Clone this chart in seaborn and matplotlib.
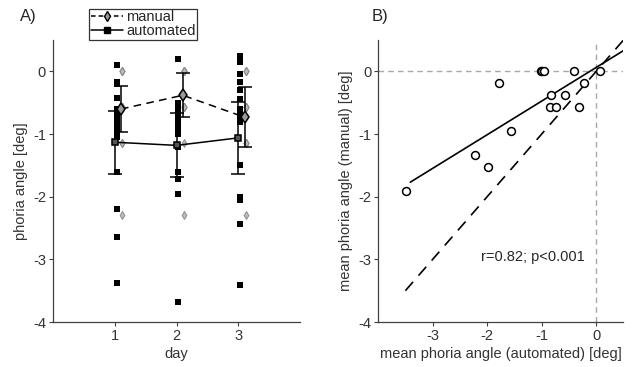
import numpy as np
import pandas as pd
import matplotlib
matplotlib.use("Agg")
import matplotlib.pyplot as plt
from matplotlib.lines import Line2D
import seaborn as sns

# Panel A: single-subject phoria per day [deg]
days = [1, 2, 3]
auto_day1 = [0.1, -0.17, -0.2, -0.42, -0.6, -0.65, -0.75, -0.82, -0.88, -0.95, -1.0, -1.05, -1.6, -2.19, -2.64, -3.38]
auto_day2 = [0.2, -0.5, -0.55, -0.6, -0.65, -0.7, -0.75, -0.8, -0.85, -0.9, -1.0, -1.2, -1.6, -1.72, -1.95, -3.68]
auto_day3 = [0.25, 0.15, -0.04, -0.17, -0.3, -0.44, -0.6, -0.65, -0.68, -0.75, -0.8, -1.5, -2.0, -2.06, -2.43, -3.41]
manual_day1 = [0, 0, 0, 0, 0, -0.57, -0.57, -0.57, -0.57, -0.57, -0.57, -0.57, -1.15, -1.15, -1.15, -2.29]
manual_day2 = [0, 0, 0, 0, 0, 0, 0, 0, -0.57, -0.57, -0.57, -0.57, -0.57, -1.15, -2.29, -0.57]
manual_day3 = [0, 0, 0, 0, -0.57, -0.57, -0.57, -0.57, -0.57, -0.57, -1.15, -1.15, -1.15, -1.15, -1.15, -2.29]

# group means and error bars as drawn
auto_mean = [-1.13, -1.18, -1.06]
auto_err = [0.5, 0.51, 0.57]
manual_mean = [-0.6, -0.38, -0.73]
manual_err = [0.37, 0.35, 0.48]

# Panel B: mean over days per subject [deg]
mean_auto = [-3.49, -2.22, -1.98, -1.57, -1.79, -1.02, -0.99, -0.96, -0.41, 0.07, -0.23, -0.58, -0.83, -0.84, -0.74, -0.32]
mean_manual = [-1.91, -1.34, -1.53, -0.955, -0.19, 0, 0, 0, 0, 0, -0.19, -0.38, -0.38, -0.573, -0.573, -0.573]
stats_text = "r=0.82; p<0.001"

sns.set_theme(style="ticks")
plt.rcParams["font.family"] = ["Liberation Sans", "DejaVu Sans"]
plt.rcParams["axes.unicode_minus"] = False
plt.rcParams["axes.edgecolor"] = "#404040"
plt.rcParams["xtick.color"] = "#404040"
plt.rcParams["ytick.color"] = "#404040"
plt.rcParams["xtick.labelcolor"] = "#333333"
plt.rcParams["ytick.labelcolor"] = "#333333"
plt.rcParams["text.color"] = "#262626"
plt.rcParams["axes.labelcolor"] = "#333333"

fig = plt.figure(figsize=(6.42, 3.67), dpi=100)
axA = fig.add_axes([0.0826, 0.1226, 0.385, 0.768])
axB = fig.add_axes([0.589, 0.1226, 0.382, 0.768])

# individual points
auto_vals = [auto_day1, auto_day2, auto_day3]
manual_vals = [manual_day1, manual_day2, manual_day3]
df_auto = pd.DataFrame({"day": np.repeat(days, [len(v) for v in auto_vals]),
                        "phoria": np.concatenate(auto_vals)})
df_manual = pd.DataFrame({"day": np.repeat(days, [len(v) for v in manual_vals]),
                          "phoria": np.concatenate(manual_vals)})
df_auto["xpos"] = df_auto["day"] + 0.03
df_manual["xpos"] = df_manual["day"] + 0.12

sns.scatterplot(data=df_auto, x="xpos", y="phoria", marker="s", s=16,
                color="black", edgecolor="black", linewidth=0, ax=axA, zorder=2)
sns.scatterplot(data=df_manual, x="xpos", y="phoria", marker="d", s=16,
                color="#bdbdbd", edgecolor="#8c8c8c", linewidth=0.7, ax=axA, zorder=3)

# means with error bars
d = np.array(days)
sns.lineplot(x=d + 0.1, y=manual_mean, color="black", lw=1.1, ax=axA,
             dashes=False, linestyle=(0, (5, 3.5)), zorder=4)
sns.lineplot(x=d, y=auto_mean, color="black", lw=1.1, ax=axA, zorder=4)
axA.errorbar(d + 0.1, manual_mean, yerr=manual_err, fmt="none", ecolor="black",
             elinewidth=1.1, capsize=5, capthick=1.1, zorder=4)
axA.errorbar(d, auto_mean, yerr=auto_err, fmt="none", ecolor="black",
             elinewidth=1.1, capsize=5, capthick=1.1, zorder=4)
axA.plot(d + 0.1, manual_mean, ls="none", marker="d", ms=6, mfc="#9a9a9a",
         mec="black", mew=1.1, zorder=5)
axA.plot(d, auto_mean, ls="none", marker="s", ms=4.5, mfc="#555555",
         mec="black", mew=1.1, zorder=5)

axA.set_xlim(0, 4)
axA.set_ylim(-4, 0.5)
axA.set_xticks(days)
axA.set_yticks([0, -1, -2, -3, -4])
axA.set_xlabel("day", fontsize=10.5, labelpad=3)
axA.set_ylabel("phoria angle [deg]", fontsize=10.5, labelpad=4)

handles = [
    Line2D([], [], color="black", lw=1.1, linestyle=(0, (3, 2)), marker="d",
           ms=5.5, mfc="#9a9a9a", mec="black"),
    Line2D([], [], color="black", lw=1.1, marker="s", ms=4, mfc="black", mec="black"),
]
leg = axA.legend(handles, ["manual", "automated"], loc="upper left",
                 bbox_to_anchor=(0.147, 1.112), frameon=True, fancybox=False,
                 fontsize=10.5, borderpad=0.12, labelspacing=0.0,
                 handlelength=2.2, handletextpad=0.2, borderaxespad=0)
leg.get_frame().set_edgecolor("black")
leg.get_frame().set_linewidth(0.9)
leg.set_zorder(10)

# Panel B
axB.axhline(0, color="#a8a8a8", lw=1, linestyle=(0, (4, 3)), zorder=1)
axB.axvline(0, color="#a8a8a8", lw=1, linestyle=(0, (4, 3)), zorder=1)
ident = np.array([-3.5, 0.5])
axB.plot(ident, ident, color="black", lw=1.2, linestyle=(0, (7, 5)), zorder=2)
slope, icpt = np.polyfit(mean_auto, mean_manual, 1)
fit_x = np.array([-3.41, 0.55])
axB.plot(fit_x, slope * fit_x + icpt, color="black", lw=1.2, zorder=3)
sns.scatterplot(x=mean_auto, y=mean_manual, marker="o", s=32, facecolor="white",
                edgecolor="black", linewidth=1.1, ax=axB, zorder=4)
axB.text(-2.12, -2.97, stats_text, fontsize=10.5, va="center", ha="left")

axB.set_xlim(-4, 0.5)
axB.set_ylim(-4, 0.5)
axB.set_xticks([-3, -2, -1, 0])
axB.set_yticks([0, -1, -2, -3, -4])
axB.set_xlabel("mean phoria angle (automated) [deg]", fontsize=10.5, labelpad=3)
axB.set_ylabel("mean phoria angle (manual) [deg]", fontsize=10.5, labelpad=4)

for ax in (axA, axB):
    sns.despine(ax=ax)
    ax.tick_params(direction="out", length=3, width=0.8, labelsize=10.5, pad=2)
    for sp in ("left", "bottom"):
        ax.spines[sp].set_linewidth(0.9)

fig.text(20 / 642, 1 - 17 / 367, "A)", fontsize=12, va="center", ha="left")
fig.text(372 / 642, 1 - 17 / 367, "B)", fontsize=12, va="center", ha="left")

fig.savefig("out.png", dpi=100)
